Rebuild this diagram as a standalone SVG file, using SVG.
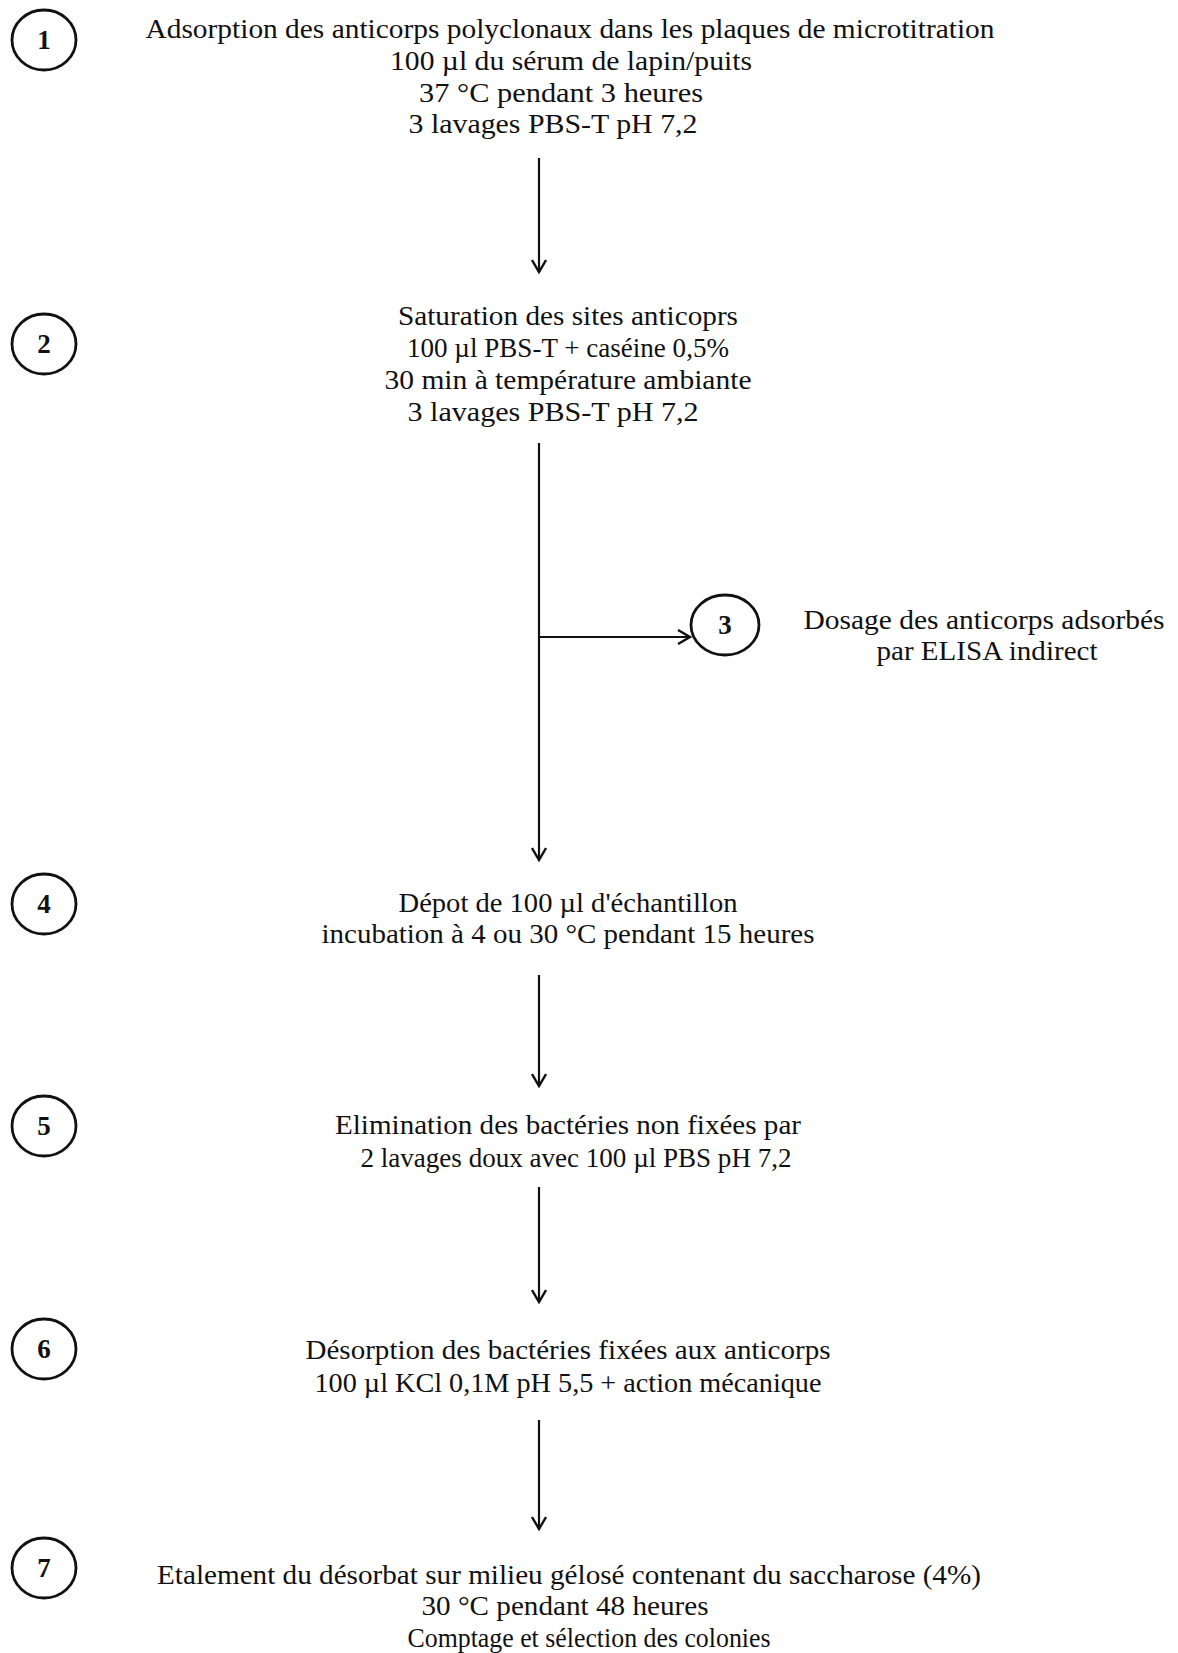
<svg xmlns="http://www.w3.org/2000/svg" width="1178" height="1653" viewBox="0 0 1178 1653">
<style>
.t{font-family:"Liberation Serif",serif;font-size:27px;fill:#111;text-anchor:middle}
.n{font-family:"Liberation Serif",serif;font-size:27px;fill:#111;text-anchor:middle;font-weight:bold}
.c{fill:none;stroke:#111;stroke-width:2.8}
.l{fill:none;stroke:#111;stroke-width:2.2}
</style>
<defs>
<marker id="ah" viewBox="0 0 16 16" refX="14" refY="8" markerWidth="16" markerHeight="16" markerUnits="userSpaceOnUse" orient="auto">
<path d="M2,1 L14,8 L2,15" fill="none" stroke="#111" stroke-width="2.4"/>
</marker>
</defs>
<rect width="1178" height="1653" fill="#fff"/>
<g id="connectors">
<line class="l" x1="539" y1="158" x2="539" y2="272" marker-end="url(#ah)"/>
<line class="l" x1="539" y1="443" x2="539" y2="860" marker-end="url(#ah)"/>
<line class="l" x1="539" y1="637" x2="690" y2="637" marker-end="url(#ah)"/>
<line class="l" x1="539" y1="975" x2="539" y2="1086" marker-end="url(#ah)"/>
<line class="l" x1="539" y1="1187" x2="539" y2="1302" marker-end="url(#ah)"/>
<line class="l" x1="539" y1="1420" x2="539" y2="1529" marker-end="url(#ah)"/>
</g>
<g id="node1">
<ellipse class="c" cx="44" cy="40" rx="32" ry="30"/>
<text class="n" x="44" y="49">1</text>
<text class="t" x="570" y="38" textLength="849" lengthAdjust="spacingAndGlyphs">Adsorption des anticorps polyclonaux dans les plaques de microtitration</text>
<text class="t" x="571" y="70" textLength="362" lengthAdjust="spacingAndGlyphs">100 µl du sérum de lapin/puits</text>
<text class="t" x="561" y="102" textLength="284" lengthAdjust="spacingAndGlyphs">37 °C pendant 3 heures</text>
<text class="t" x="553" y="133" textLength="289" lengthAdjust="spacingAndGlyphs">3 lavages PBS-T pH 7,2</text>
</g>
<g id="node2">
<ellipse class="c" cx="44" cy="344" rx="32" ry="30"/>
<text class="n" x="44" y="353">2</text>
<text class="t" x="568" y="325" textLength="340" lengthAdjust="spacingAndGlyphs">Saturation des sites anticoprs</text>
<text class="t" x="568" y="357" textLength="322" lengthAdjust="spacingAndGlyphs">100 µl PBS-T + caséine 0,5%</text>
<text class="t" x="568" y="389" textLength="367" lengthAdjust="spacingAndGlyphs">30 min à température ambiante</text>
<text class="t" x="553" y="421" textLength="291" lengthAdjust="spacingAndGlyphs">3 lavages PBS-T pH 7,2</text>
</g>
<g id="node3">
<ellipse class="c" cx="725" cy="625" rx="34" ry="30"/>
<text class="n" x="725" y="634">3</text>
<text class="t" x="984" y="629" textLength="361" lengthAdjust="spacingAndGlyphs">Dosage des anticorps adsorbés</text>
<text class="t" x="987" y="660" textLength="221" lengthAdjust="spacingAndGlyphs">par ELISA indirect</text>
</g>
<g id="node4">
<ellipse class="c" cx="44" cy="904" rx="32" ry="30"/>
<text class="n" x="44" y="913">4</text>
<text class="t" x="568" y="912" textLength="339" lengthAdjust="spacingAndGlyphs">Dépot de 100 µl d'échantillon</text>
<text class="t" x="568" y="943" textLength="493" lengthAdjust="spacingAndGlyphs">incubation à 4 ou 30 °C pendant 15 heures</text>
</g>
<g id="node5">
<ellipse class="c" cx="44" cy="1126" rx="32" ry="30"/>
<text class="n" x="44" y="1135">5</text>
<text class="t" x="568" y="1134" textLength="466" lengthAdjust="spacingAndGlyphs">Elimination des bactéries non fixées par</text>
<text class="t" x="576" y="1167" textLength="431" lengthAdjust="spacingAndGlyphs">2 lavages doux avec 100 µl PBS pH 7,2</text>
</g>
<g id="node6">
<ellipse class="c" cx="44" cy="1349" rx="32" ry="30"/>
<text class="n" x="44" y="1358">6</text>
<text class="t" x="568" y="1359" textLength="525" lengthAdjust="spacingAndGlyphs">Désorption des bactéries fixées aux anticorps</text>
<text class="t" x="568" y="1392" textLength="507" lengthAdjust="spacingAndGlyphs">100 µl KCl 0,1M pH 5,5 + action mécanique</text>
</g>
<g id="node7">
<ellipse class="c" cx="44" cy="1568" rx="32" ry="30"/>
<text class="n" x="44" y="1577">7</text>
<text class="t" x="569" y="1584" textLength="824" lengthAdjust="spacingAndGlyphs">Etalement du désorbat sur milieu gélosé contenant du saccharose (4%)</text>
<text class="t" x="565" y="1615" textLength="287" lengthAdjust="spacingAndGlyphs">30 °C pendant 48 heures</text>
<text class="t" x="589" y="1647" textLength="363" lengthAdjust="spacingAndGlyphs">Comptage et sélection des colonies</text>
</g>
</svg>
